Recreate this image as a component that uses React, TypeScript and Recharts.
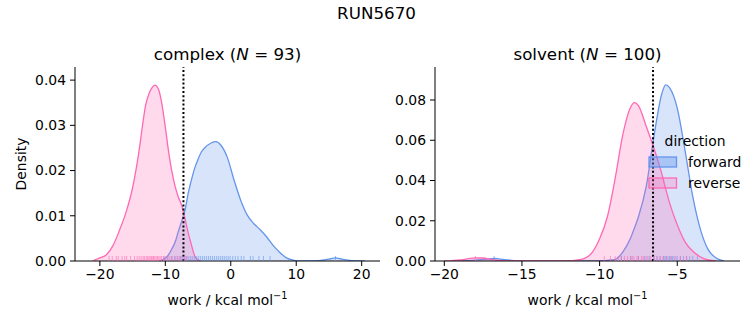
import { ComposedChart, Area, Scatter, XAxis, YAxis, ReferenceLine } from "recharts";

const FONT = "'DejaVu Sans', sans-serif";
const BLUE = "#6495ed";
const PINK = "#ff69b4";

// complex leg: KDE curves
const complexX = [
  -21, -20, -19, -18, -17, -16, -15, -14, -13.5, -13, -12.5, -12, -11.6, -11, -10.5, -10, -9.5, -9, -8.5, -8,
  -7.5, -7, -6.5, -6, -5.5, -5, -4.5, -4, -3, -2.3, -1.5, -0.5, 0.5, 1.5, 2.5, 3.5, 4.5, 5.5, 6.5, 7.5, 8.5,
  9.5, 10.5, 12, 13.5, 15, 16, 17, 18.5, 20.5,
];
const complexForward = [
  null, null, null, null, null, null, null, null, null, null, null, null, null, 0.0, 0.0002, 0.0006, 0.0014,
  0.0027, 0.0042, 0.0066, 0.0088, 0.0112, 0.0150, 0.018, 0.0206, 0.0225, 0.0241, 0.025, 0.0261, 0.0264, 0.0256,
  0.0228, 0.0179, 0.0135, 0.0102, 0.0083, 0.0069, 0.0053, 0.0034, 0.0019, 0.0007, 0.0002, 0.0, 0.0, 0.0001,
  0.0004, 0.0007, 0.0004, 0.0001, 0.0,
];
const complexReverse = [
  0.0001, 0.0007, 0.0014, 0.0034, 0.0068, 0.0108, 0.0162, 0.0245, 0.0298, 0.0345, 0.037, 0.0384, 0.0389, 0.0378,
  0.0345, 0.0296, 0.0242, 0.0198, 0.0165, 0.0141, 0.0123, 0.0094, 0.0062, 0.0035, 0.0011, 0.0002, 0.0, null,
  null, null, null, null, null, null, null, null, null, null, null, null, null, null, null, null, null, null,
  null, null, null, null,
];

// solvent leg
const solventX = [
  -20, -19.5, -19, -18.5, -18, -17.5, -17, -16.75, -16.5, -16, -15.5, -15, -14, -13, -12, -11.5, -11, -10.5,
  -10, -9.5, -9, -8.5, -8, -7.75, -7.5, -7, -6.5, -6, -5.75, -5.5, -5, -4.5, -4, -3.5, -3, -2.5, -2,
];
const solventForward = [
  null, 0.0, 0.0001, 0.0002, 0.0004, 0.0008, 0.0012, 0.0013, 0.0011, 0.0006, 0.0002, 0.0001, 0.0, 0.0, 0.0, 0.0,
  0.0, 0.0, 0.0001, 0.0003, 0.0008, 0.0045, 0.0115, 0.0165, 0.022, 0.037, 0.062, 0.083, 0.0875, 0.0862, 0.076,
  0.055, 0.032, 0.0155, 0.0055, 0.0015, 0.0001,
];
const solventReverse = [
  0.0, 0.0002, 0.0005, 0.0011, 0.0016, 0.0015, 0.0008, 0.0005, 0.0003, 0.0001, 0.0, 0.0, 0.0, 0.0, 0.0001,
  0.0004, 0.0012, 0.004, 0.011, 0.022, 0.041, 0.063, 0.0765, 0.0787, 0.0772, 0.067, 0.056, 0.0435, 0.036, 0.029,
  0.018, 0.0095, 0.0048, 0.002, 0.0005, 0.0001, null,
];

// individual work values (rug)
const complexForwardRug = [
  -10.2, -9.6, -9.0, -8.5, -8.1, -7.7, -7.3, -7.0, -6.7, -6.4, -6.1, -5.8, -5.5, -5.2, -4.9, -4.6, -4.3, -4.0,
  -3.7, -3.4, -3.1, -2.8, -2.5, -2.2, -1.9, -1.6, -1.3, -1.0, -0.7, -0.4, -0.1, 0.3, 0.7, 1.1, 1.6, 2.0, 3.0,
  3.4, 4.3, 5.0, 6.0, 16.0,
];
const complexReverseRug = [
  -18.6, -18.1, -17.5, -17.2, -16.6, -16.2, -15.9, -15.3, -14.7, -14.3, -14.0, -13.7, -13.4, -13.2, -12.9,
  -12.7, -12.5, -12.3, -12.1, -11.9, -11.8, -11.6, -11.4, -11.2, -11.0, -10.8, -10.6, -10.3, -10.0, -9.7, -9.3,
  -9.0, -8.6, -8.2, -7.8, -7.5, -7.1, -6.8,
];
const solventForwardRug = [
  -16.8, -8.6, -8.0, -7.5, -7.1, -6.8, -6.5, -6.3, -6.1, -5.9, -5.8, -5.7, -5.6, -5.5, -5.4, -5.3, -5.2, -5.0,
  -4.8, -4.6, -4.4, -4.2, -4.0, -3.7,
];
const solventReverseRug = [
  -18.0, -9.7, -9.3, -9.0, -8.8, -8.6, -8.4, -8.2, -8.0, -7.9, -7.8, -7.6, -7.5, -7.3, -7.2, -7.0, -6.9, -6.7,
  -6.5, -6.3, -6.1, -5.9, -5.7, -5.4, -5.1, -4.8, -4.4,
];

const complexTicks = [-20, -10, 0, 10, 20];
const solventTicks = [-20, -15, -10, -5];
const complexYTicks = [0, 0.01, 0.02, 0.03, 0.04];
const solventYTicks = [0, 0.02, 0.04, 0.06, 0.08];
const complexCutoff = -7.23;
const solventCutoff = -6.56;

const toRows = (xs: number[], fwd: (number | null)[], rev: (number | null)[]) =>
  xs.map((x, i) => ({ x, forward: fwd[i], reverse: rev[i] }));
const toRug = (xs: number[]) => xs.map((x) => ({ x, y: 0 }));
const minus = (v: number) => String(v).replace("-", "\u2212");

const tickStyle = { fontFamily: FONT, fontSize: 13.9, fill: "#000" };

function rugShape(color: string) {
  return (p: any) => (
    <line x1={p.cx} x2={p.cx} y1={p.cy} y2={p.cy - 5} stroke={color} strokeWidth={1} strokeOpacity={0.6} />
  );
}

interface PanelProps {
  left: number;
  width: number;
  margin: { top: number; right: number; bottom: number; left: number };
  rows: any[];
  xDomain: [number, number];
  yDomain: [number, number];
  xTicks: number[];
  yTicks: number[];
  fwdRug: number[];
  revRug: number[];
  cutoff: number;
}

function Panel(p: PanelProps) {
  return (
    <div style={{ position: "absolute", left: p.left, top: 0 }}>
      <ComposedChart width={p.width} height={325} data={p.rows} margin={p.margin}>
        <XAxis
          dataKey="x"
          type="number"
          domain={p.xDomain}
          ticks={p.xTicks}
          allowDataOverflow
          tickFormatter={minus}
          tick={tickStyle}
          tickSize={5}
          tickMargin={3}
          height={30}
          stroke="#000"
        />
        <YAxis
          type="number"
          domain={p.yDomain}
          ticks={p.yTicks}
          allowDataOverflow
          tickFormatter={(v: number) => v.toFixed(2)}
          tick={tickStyle}
          tickSize={5}
          tickMargin={4}
          width={45}
          stroke="#000"
        />
        <Area
          dataKey="forward"
          type="monotone"
          stroke={BLUE}
          strokeWidth={1.3}
          fill={BLUE}
          fillOpacity={0.25}
          connectNulls
          isAnimationActive={false}
        />
        <Area
          dataKey="reverse"
          type="monotone"
          stroke={PINK}
          strokeWidth={1.3}
          fill={PINK}
          fillOpacity={0.25}
          connectNulls
          isAnimationActive={false}
        />
        <Scatter data={toRug(p.fwdRug)} dataKey="y" shape={rugShape(BLUE)} isAnimationActive={false} />
        <Scatter data={toRug(p.revRug)} dataKey="y" shape={rugShape(PINK)} isAnimationActive={false} />
        <ReferenceLine x={p.cutoff} stroke="#000" strokeWidth={2} strokeDasharray="2 2.2" />
      </ComposedChart>
    </div>
  );
}

function WorkLabel({ x }: { x: number }) {
  return (
    <text x={x} y={305} textAnchor="middle" fontSize={13.9} fontFamily={FONT}>
      work / kcal mol
      <tspan dy={-6} fontSize={9.7}>
        {"\u22121"}
      </tspan>
    </text>
  );
}

function Title({ x, name, n }: { x: number; name: string; n: number }) {
  return (
    <text x={x} y={60} textAnchor="middle" fontSize={16.7} fontFamily={FONT}>
      {name} (<tspan fontStyle="italic">N</tspan> = {n})
    </text>
  );
}

export default function App() {
  return (
    <div style={{ position: "absolute", left: 0, top: 0, width: 753, height: 325, background: "#fff" }}>
      <Panel
        left={0}
        width={390}
        margin={{ top: 67, right: 10, bottom: 34, left: 30 }}
        rows={toRows(complexX, complexForward, complexReverse)}
        xDomain={[-23.8, 22.8]}
        yDomain={[0, 0.0429]}
        xTicks={complexTicks}
        yTicks={complexYTicks}
        fwdRug={complexForwardRug}
        revRug={complexReverseRug}
        cutoff={complexCutoff}
      />
      <Panel
        left={380}
        width={373}
        margin={{ top: 67, right: 13, bottom: 34, left: 10 }}
        rows={toRows(solventX, solventForward, solventReverse)}
        xDomain={[-20.6, -0.96]}
        yDomain={[0, 0.0964]}
        xTicks={solventTicks}
        yTicks={solventYTicks}
        fwdRug={solventForwardRug}
        revRug={solventReverseRug}
        cutoff={solventCutoff}
      />
      <svg width={753} height={325} style={{ position: "absolute", left: 0, top: 0, pointerEvents: "none" }}>
        <text x={376.5} y={19} textAnchor="middle" fontSize={16.7} fontFamily={FONT}>
          RUN5670
        </text>
        <Title x={227.5} name="complex" n={93} />
        <Title x={587.5} name="solvent" n={100} />
        <text
          x={0}
          y={0}
          transform="translate(26,164) rotate(-90)"
          textAnchor="middle"
          fontSize={13.9}
          fontFamily={FONT}
        >
          Density
        </text>
        <WorkLabel x={227.5} />
        <WorkLabel x={587.5} />
        <text x={695} y={146} textAnchor="middle" fontSize={13.9} fontFamily={FONT}>
          direction
        </text>
        <rect x={649} y={157} width={27.5} height={10} fill={BLUE} fillOpacity={0.4} stroke={BLUE} strokeWidth={1.3} />
        <rect x={649} y={178} width={27.5} height={10} fill={PINK} fillOpacity={0.25} stroke={PINK} strokeWidth={1.3} />
        <text x={688} y={162} dominantBaseline="central" fontSize={13.9} fontFamily={FONT}>
          forward
        </text>
        <text x={688} y={183} dominantBaseline="central" fontSize={13.9} fontFamily={FONT}>
          reverse
        </text>
      </svg>
    </div>
  );
}
